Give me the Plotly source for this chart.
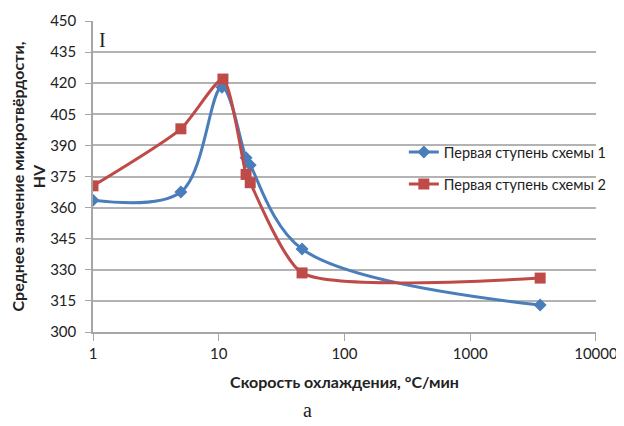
import plotly.graph_objects as go

# data
x_s1 = [1, 5, 10.6, 16.5, 17.8, 46, 3600]
y_s1 = [363.5, 367.5, 418, 384, 380.5, 340, 313]
x_s2 = [1, 5, 10.8, 16.5, 17.8, 46, 3600]
y_s2 = [370.5, 398, 422, 376, 372, 328.5, 326]
name_s1 = "Первая ступень схемы 1"
name_s2 = "Первая ступень схемы 2"
y_ticks = [300, 315, 330, 345, 360, 375, 390, 405, 420, 435, 450]
x_ticks = [1, 10, 100, 1000, 10000]

BLUE = "#4A7EBB"
RED = "#BE4B48"
FONT = "Lato"

# the page has an 8px body margin, so the figure is sized to fit the window
OFF = 8
W, H = 624 - OFF, 426 - OFF
L, R, T, B = 93 - OFF, 21, 21 - OFF, 94

fig = go.Figure()
fig.add_trace(go.Scatter(
    x=x_s1, y=y_s1, name=name_s1, mode="lines+markers",
    line=dict(color=BLUE, width=3, shape="spline", smoothing=1.0),
    marker=dict(symbol="diamond", size=10, color=BLUE),
    legendgroup="a",
))
fig.add_trace(go.Scatter(
    x=x_s2, y=y_s2, name=name_s2, mode="lines+markers",
    line=dict(color=RED, width=3, shape="spline", smoothing=0.6),
    marker=dict(symbol="square", size=11, color=RED),
    legendgroup="b",
))

fig.update_layout(
    width=W, height=H,
    margin=dict(l=L, r=R, t=T, b=B),
    paper_bgcolor="white", plot_bgcolor="white",
    font=dict(family=FONT, size=15, color="#222"),
    legend=dict(
        x=0.618, y=0.527, xanchor="left", yanchor="middle",
        bgcolor="rgba(255,255,255,0)",
        font=dict(family=FONT, size=14.5, color="#222"),
        tracegroupgap=10,
    ),
    xaxis=dict(
        type="log", range=[0, 4.0005], automargin=False,
        tickvals=x_ticks, ticktext=[str(v) for v in x_ticks],
        ticklabeloverflow="allow",
        showgrid=False, showline=True, linecolor="#A6A6A6", linewidth=1.5,
        ticks="outside", ticklen=7, tickcolor="#A6A6A6",
        tickfont=dict(family=FONT, size=15, color="#222"),
        title=dict(text="<b>Скорость охлаждения, °С/мин</b>",
                   font=dict(family=FONT, size=16, color="#222"), standoff=16),
        zeroline=False,
    ),
    yaxis=dict(
        range=[300, 450], tickvals=y_ticks, automargin=False,
        showgrid=True, gridcolor="#B3B3B3", gridwidth=1.5,
        showline=True, linecolor="#A6A6A6", linewidth=1.5,
        ticks="outside", ticklen=6, tickcolor="#A6A6A6",
        ticklabelstandoff=6,
        tickfont=dict(family=FONT, size=15, color="#222"),
        title=dict(text="<b>Среднее значение микротвёрдости,<br>HV</b>",
                   font=dict(family=FONT, size=16, color="#222"), standoff=10),
        zeroline=False,
    ),
)

pw = W - L - R
ph = H - T - B


def px2paper(px, py):
    # px, py are window pixels
    return (px - OFF - L) / pw, 1 - (py - OFF - T) / ph


for text, (px, py), fam, size in [
    ("a", (310, 410), "Liberation Serif", 20),
    ("I", (103, 40), "Liberation Serif", 20),
]:
    ax, ay = px2paper(px, py)
    fig.add_annotation(text=text, x=ax, y=ay, xref="paper", yref="paper",
                       xanchor="center", yanchor="middle", showarrow=False,
                       font=dict(family=fam, size=size, color="#222"))

fig.write_html("out.html")
